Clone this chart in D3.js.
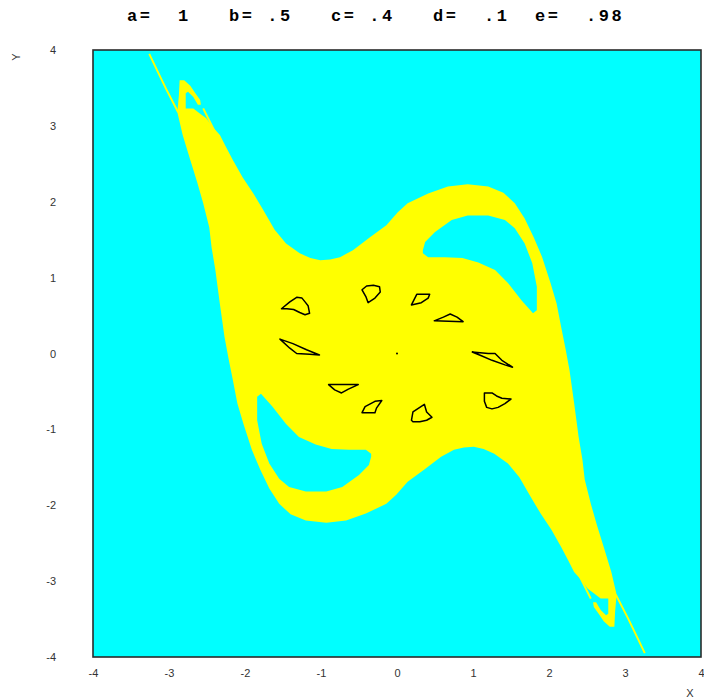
<!DOCTYPE html>
<html><head><meta charset="utf-8">
<script src="https://cdn.jsdelivr.net/npm/d3@7"></script>
<style>body{margin:0;background:#fff}</style>
</head><body>
<svg id="chart" width="704" height="700"></svg>
<script>
// ---- data (in data units) ----
const titleText = "a=  1   b= .5   c= .4   d=  .1  e=  .98";
const xTicks = [-4, -3, -2, -1, 0, 1, 2, 3, 4];
const yTicks = [-4, -3, -2, -1, 0, 1, 2, 3, 4];
const xLabel = "X", yLabel = "Y";

// outer boundary of the yellow basin, upper part then lower part
const upperEdge = [[-2.47,1.66],[-2.55,1.98],[-2.63,2.26],[-2.72,2.55],[-2.82,2.88],[-2.89,3.18],[-2.87,3.40],[-2.86,3.60],[-2.80,3.60],[-2.72,3.53],[-2.66,3.44],[-2.59,3.34],[-2.58,3.28],[-2.62,3.28],[-2.68,3.38],[-2.75,3.45],[-2.78,3.43],[-2.78,3.23],[-2.68,3.23],[-2.59,3.16],[-2.51,3.10],[-2.42,2.98],[-2.33,2.88],[-2.25,2.72],[-2.16,2.55],[-2.03,2.32],[-1.89,2.11],[-1.76,1.89],[-1.61,1.63],[-1.46,1.45],[-1.28,1.32],[-1.14,1.26],[-1.01,1.23],[-0.88,1.24],[-0.75,1.27],[-0.58,1.36],[-0.36,1.53],[-0.14,1.69],[0.01,1.86],[0.14,1.98],[0.41,2.11],[0.67,2.20],[0.93,2.23],[1.20,2.20],[1.40,2.12],[1.55,1.98],[1.68,1.78],[1.80,1.53],[1.91,1.27],[2.02,0.93],[2.10,0.66],[2.16,0.35],[2.22,0.05],[2.27,-0.22],[2.33,-0.65],[2.39,-1.10],[2.44,-1.40],[2.47,-1.66]];
const lowerEdge = [[2.55,-1.98],[2.63,-2.26],[2.72,-2.55],[2.82,-2.88],[2.89,-3.18],[2.87,-3.40],[2.86,-3.60],[2.80,-3.60],[2.72,-3.53],[2.66,-3.44],[2.59,-3.34],[2.58,-3.28],[2.62,-3.28],[2.68,-3.38],[2.75,-3.45],[2.78,-3.43],[2.78,-3.23],[2.68,-3.23],[2.59,-3.16],[2.51,-3.10],[2.42,-2.98],[2.33,-2.88],[2.25,-2.72],[2.16,-2.55],[2.03,-2.32],[1.89,-2.11],[1.76,-1.89],[1.61,-1.63],[1.46,-1.45],[1.28,-1.32],[1.14,-1.26],[1.01,-1.23],[0.88,-1.24],[0.75,-1.27],[0.58,-1.36],[0.36,-1.53],[0.14,-1.69],[-0.01,-1.86],[-0.14,-1.98],[-0.41,-2.11],[-0.67,-2.20],[-0.93,-2.23],[-1.20,-2.20],[-1.40,-2.12],[-1.55,-1.98],[-1.68,-1.78],[-1.80,-1.53],[-1.91,-1.27],[-2.02,-0.93],[-2.10,-0.66],[-2.16,-0.35],[-2.22,-0.05],[-2.27,0.22],[-2.33,0.65],[-2.39,1.10],[-2.44,1.40]];

// cyan holes inside the basin
const upperHole = [[0.34,1.36],[0.37,1.47],[0.50,1.60],[0.72,1.76],[0.93,1.82],[1.20,1.82],[1.42,1.76],[1.55,1.65],[1.68,1.45],[1.78,1.19],[1.84,0.88],[1.84,0.57],[1.79,0.53],[1.64,0.70],[1.46,0.93],[1.29,1.10],[1.07,1.20],[0.86,1.26],[0.63,1.27],[0.41,1.27],[0.34,1.32]];
const lowerHole = [[-0.34,-1.36],[-0.37,-1.47],[-0.50,-1.60],[-0.72,-1.76],[-0.93,-1.82],[-1.20,-1.82],[-1.42,-1.76],[-1.55,-1.65],[-1.68,-1.45],[-1.78,-1.19],[-1.84,-0.88],[-1.84,-0.57],[-1.79,-0.53],[-1.64,-0.70],[-1.46,-0.93],[-1.29,-1.10],[-1.07,-1.20],[-0.86,-1.26],[-0.63,-1.27],[-0.41,-1.27],[-0.34,-1.32]];

// thin filaments near the two tips
const filamentA = [[-3.26,3.95],[-3.18,3.78],[-3.04,3.49],[-2.88,3.18]];
const filamentB = [[-2.55,3.23],[-2.39,2.91]];
const filamentC = [[3.26,-3.95],[3.18,-3.78],[3.04,-3.49],[2.88,-3.18]];
const filamentD = [[2.55,-3.23],[2.39,-2.91]];

// small black loops
const loop1 = [[-1.52,0.59],[-1.41,0.68],[-1.32,0.74],[-1.25,0.73],[-1.21,0.68],[-1.17,0.63],[-1.15,0.53],[-1.21,0.51],[-1.28,0.54],[-1.36,0.58],[-1.45,0.59]];
const loop2 = [[-0.46,0.84],[-0.40,0.89],[-0.31,0.90],[-0.23,0.88],[-0.22,0.81],[-0.29,0.73],[-0.38,0.67],[-0.41,0.75]];
const loop3 = [[0.19,0.64],[0.26,0.78],[0.43,0.78],[0.41,0.73],[0.32,0.67]];
const loop4 = [[0.49,0.43],[0.61,0.48],[0.70,0.52],[0.79,0.48],[0.87,0.42]];
const loop5 = [[-1.54,0.19],[-1.37,0.13],[-1.19,0.05],[-1.02,-0.02],[-1.15,-0.01],[-1.32,0.00],[-1.41,0.07]];
const loop6 = [[0.99,0.02],[1.20,0.00],[1.29,0.00],[1.38,-0.09],[1.52,-0.18],[1.42,-0.15],[1.25,-0.09],[1.11,-0.03]];
const loop7 = [[-0.90,-0.41],[-0.51,-0.41],[-0.64,-0.47],[-0.73,-0.52],[-0.82,-0.48]];
const loop8 = [[-0.46,-0.78],[-0.42,-0.70],[-0.29,-0.63],[-0.20,-0.62],[-0.27,-0.72],[-0.29,-0.78]];
const loop9 = [[0.19,-0.88],[0.21,-0.77],[0.30,-0.71],[0.36,-0.67],[0.39,-0.77],[0.46,-0.84],[0.39,-0.88],[0.30,-0.90],[0.21,-0.90]];
const loop10 = [[1.15,-0.52],[1.25,-0.52],[1.31,-0.56],[1.38,-0.59],[1.50,-0.60],[1.42,-0.66],[1.33,-0.71],[1.25,-0.73],[1.18,-0.71],[1.15,-0.63]];
const centerPoint = [[0, 0]];

// ---- drawing ----
const W = 704, H = 700;
const mLeft = 93, mRight = 701, mTop = 50, mBottom = 657;
const svg = d3.select("#chart");
svg.append("rect").attr("width", W).attr("height", H).attr("fill", "#fff");

const x = d3.scaleLinear().domain([-4, 4]).range([mLeft, mRight]);
const y = d3.scaleLinear().domain([-4, 4]).range([mBottom, mTop]);
const line = d3.line().x(d => x(d[0])).y(d => y(d[1]));

svg.append("defs").append("clipPath").attr("id", "plotclip")
  .append("rect").attr("x", mLeft).attr("y", mTop)
  .attr("width", mRight - mLeft).attr("height", mBottom - mTop);

const g = svg.append("g").attr("clip-path", "url(#plotclip)");
g.append("rect").attr("x", mLeft).attr("y", mTop)
  .attr("width", mRight - mLeft).attr("height", mBottom - mTop)
  .attr("fill", "#00ffff");

const outline = upperEdge.concat(lowerEdge);
const basinPath = line(outline) + "Z" + line(upperHole) + "Z" + line(lowerHole) + "Z";
g.append("path").attr("d", basinPath)
  .attr("fill", "#ffff00").attr("fill-rule", "evenodd");

[filamentA, filamentB, filamentC, filamentD].forEach(f => {
  g.append("path").attr("d", line(f)).attr("fill", "none")
    .attr("stroke", "#ffff00").attr("stroke-width", 1.9);
});

[loop1, loop2, loop3, loop4, loop5, loop6, loop7, loop8, loop9, loop10].forEach(l => {
  g.append("path").attr("d", line(l) + "Z").attr("fill", "none")
    .attr("stroke", "#000").attr("stroke-width", 1.5)
    .attr("stroke-linejoin", "round");
});
g.selectAll("circle.c").data(centerPoint).enter().append("circle")
  .attr("cx", d => x(d[0])).attr("cy", d => y(d[1])).attr("r", 1)
  .attr("fill", "#000");

// frame
svg.append("rect").attr("x", mLeft).attr("y", mTop)
  .attr("width", mRight - mLeft).attr("height", mBottom - mTop)
  .attr("fill", "none").attr("stroke", "#2b2b2b").attr("stroke-width", 1.6);

// axes
const fmt = d => String(d);
const xAxis = svg.append("g").attr("transform", `translate(0,${mBottom})`)
  .call(d3.axisBottom(x).tickValues(xTicks).tickFormat(fmt).tickSize(0).tickPadding(12));
const yAxis = svg.append("g").attr("transform", `translate(${mLeft},0)`)
  .call(d3.axisLeft(y).tickValues(yTicks).tickFormat(fmt).tickSize(0).tickPadding(37));
[xAxis, yAxis].forEach(a => {
  a.select(".domain").remove();
  a.selectAll("text").attr("font-family", "'Liberation Sans', Arial, sans-serif")
    .attr("font-size", 11).attr("fill", "#333");
});

svg.append("text").attr("x", 690).attr("y", 697).text(xLabel)
  .attr("font-family", "'Liberation Sans', Arial, sans-serif").attr("font-size", 11)
  .attr("fill", "#333").attr("text-anchor", "middle");
svg.append("text").attr("transform", "translate(20,57) rotate(-90)").text(yLabel)
  .attr("font-family", "'Liberation Sans', Arial, sans-serif").attr("font-size", 11)
  .attr("fill", "#333").attr("text-anchor", "middle");

// title
svg.append("text").attr("x", 127).attr("y", 21).text(titleText)
  .style("white-space", "pre")
  .attr("font-family", "'Liberation Mono', 'Courier New', monospace")
  .attr("font-weight", "bold").attr("font-size", 17)
  .attr("letter-spacing", 2.55).attr("fill", "#000");
</script>
</body></html>
